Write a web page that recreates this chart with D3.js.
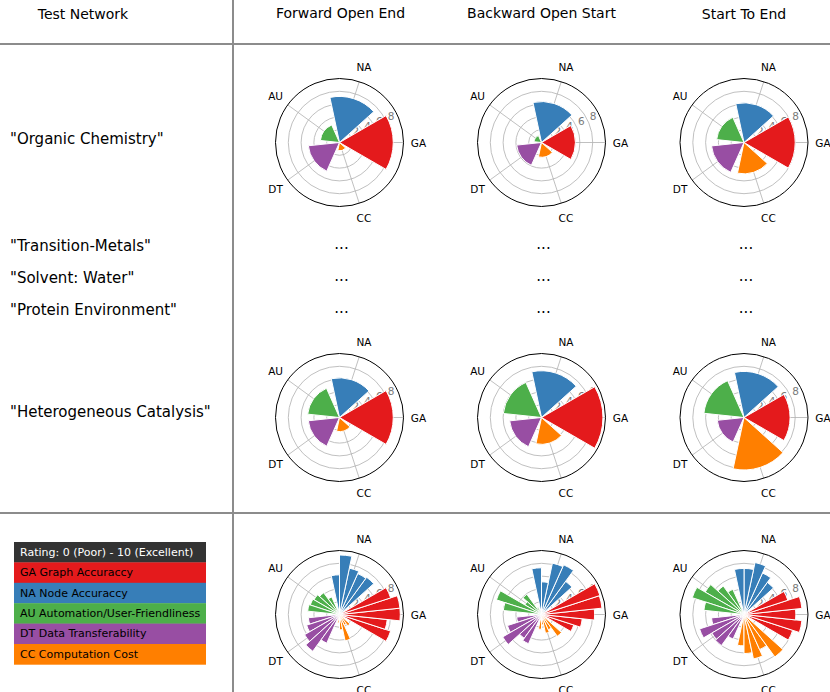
<!DOCTYPE html>
<html>
<head>
<meta charset="utf-8">
<script src="https://cdn.jsdelivr.net/npm/d3@7"></script>
<style>
  html, body { margin: 0; padding: 0; background: #fff; }
  svg { display: block; font-family: "DejaVu Sans", sans-serif; }
</style>
</head>
<body>
<svg id="chart" width="830" height="692"></svg>
<script>
const modes = ["Forward Open End", "Backward Open Start", "Start To End"];
const networks = ["\"Organic Chemistry\"", "\"Transition-Metals\"", "\"Solvent: Water\"", "\"Protein Environment\"", "\"Heterogeneous Catalysis\""];
const metrics = ["GA", "NA", "AU", "DT", "CC"];
const metricAngles = [0, 72, 144, 216, 288];
const metricColors = ["#e41a1c", "#377eb8", "#4daf4a", "#984ea3", "#ff7f00"];
const legendLabels = ["GA Graph Accuraccy", "NA Node Accuraccy", "AU Automation/User-Friendliness", "DT Data Transferability", "CC Computation Cost"];
const rTicks = [2, 4, 6, 8];

// ratings per network, in metric order GA, NA, AU, DT, CC
const forwardOpenEnd = [
  [8.4, 7.2, 3.0, 4.9, 1.3],
  [7.5, 7.0, 4.2, 5.4, 2.4],
  [9.5, 7.4, 4.6, 6.3, 4.2],
  [9.5, 9.3, 4.8, 7.1, 1.8],
  [8.4, 6.2, 5.0, 4.9, 2.2]
];
const backwardOpenStart = [
  [5.3, 6.4, 1.2, 3.9, 2.3],
  [6.4, 8.5, 3.9, 5.6, 1.6],
  [8.3, 8.2, 3.0, 7.0, 3.0],
  [9.5, 5.1, 7.4, 4.6, 2.6],
  [9.6, 7.3, 6.0, 5.0, 4.2]
];
const startToEnd = [
  [8.0, 6.2, 4.3, 5.1, 4.9],
  [9.1, 7.1, 5.5, 7.3, 6.1],
  [8.1, 8.3, 7.0, 5.8, 7.1],
  [9.1, 7.2, 8.5, 6.0, 6.0],
  [7.2, 7.2, 6.3, 4.2, 8.2]
];
const modeData = [forwardOpenEnd, backwardOpenStart, startToEnd];

const svg = d3.select("#chart");
const R = 64;
const colX = [339.5, 541.5, 744];
const rowY = [142.5, 417.5, 614.5];
const rScale = d3.scaleLinear().domain([0, 10]).range([0, R]);
const rad = d => d * Math.PI / 180;

// table lines
const lineColor = "#8c8c8c";
svg.append("line").attr("x1", 233).attr("x2", 233).attr("y1", 0).attr("y2", 692)
  .attr("stroke", lineColor).attr("stroke-width", 2);
[44, 513].forEach(y => svg.append("line").attr("x1", 0).attr("x2", 830).attr("y1", y).attr("y2", y)
  .attr("stroke", lineColor).attr("stroke-width", 2));

// headers
svg.append("text").attr("x", 83).attr("y", 14).attr("text-anchor", "middle").attr("dominant-baseline", "central")
  .attr("font-size", 14).text("Test Network");
modes.forEach((m, i) => {
  svg.append("text").attr("x", colX[i] + (i === 0 ? 1 : 0)).attr("y", i === 2 ? 14 : 13)
    .attr("text-anchor", "middle").attr("dominant-baseline", "central")
    .attr("font-size", 14).text(m);
});

// row labels
const labelY = [139, 246, 278, 310, 412];
networks.forEach((n, i) => {
  svg.append("text").attr("x", 10).attr("y", labelY[i]).attr("dominant-baseline", "central")
    .attr("font-size", 15).text(n);
});
[1, 2, 3].forEach(i => {
  colX.forEach(x => {
    svg.append("text").attr("x", x + 2).attr("y", labelY[i] + 3).attr("text-anchor", "middle")
      .attr("font-size", 15).text("...");
  });
});

function drawPolar(cx, cy, sets) {
  const g = svg.append("g").attr("transform", `translate(${cx},${cy})`);
  const px = (deg, r) => r * Math.cos(rad(deg));
  const py = (deg, r) => -r * Math.sin(rad(deg));

  // grid circles
  g.selectAll("circle.grid").data(rTicks).join("circle")
    .attr("r", d => rScale(d)).attr("fill", "none")
    .attr("stroke", "#b0b0b0").attr("stroke-width", 0.8);
  // spokes
  g.selectAll("line.spoke").data(metricAngles).join("line")
    .attr("x1", 0).attr("y1", 0)
    .attr("x2", d => px(d, R)).attr("y2", d => py(d, R))
    .attr("stroke", "#b0b0b0").attr("stroke-width", 0.8);
  // radial tick labels
  g.selectAll("text.rtick").data(rTicks).join("text")
    .attr("x", d => px(22.5, rScale(d)) + 4.4)
    .attr("y", d => py(22.5, rScale(d)) - 6.7)
    .attr("text-anchor", "middle").attr("dominant-baseline", "central")
    .attr("font-size", 10.5).attr("fill", "#7a7a7a").text(d => d);

  // bars
  const n = sets.length;
  const span = 60, w = span / n;
  const bars = [];
  sets.forEach((vals, k) => {
    vals.forEach((v, j) => {
      const a0 = metricAngles[j] - span / 2 + w * k;
      bars.push({ a0, a1: a0 + w, v, color: metricColors[j] });
    });
  });
  const arc = d3.arc().innerRadius(0)
    .outerRadius(d => rScale(d.v))
    .startAngle(d => rad(90 - d.a1))
    .endAngle(d => rad(90 - d.a0));
  g.selectAll("path.bar").data(bars).join("path")
    .attr("d", arc).attr("fill", d => d.color)
    .attr("stroke", "#fff").attr("stroke-width", 1).attr("stroke-linejoin", "miter");

  // outer spine
  g.append("circle").attr("r", R).attr("fill", "none").attr("stroke", "#000").attr("stroke-width", 1);

  // category labels
  g.selectAll("text.cat").data(metrics).join("text")
    .attr("x", (d, i) => px(metricAngles[i], 79))
    .attr("y", (d, i) => py(metricAngles[i], 79))
    .attr("text-anchor", "middle").attr("dominant-baseline", "central")
    .attr("font-size", 10.5).text(d => d);
}

modeData.forEach((data, c) => {
  drawPolar(colX[c], rowY[0], [data[0]]);
  drawPolar(colX[c], rowY[1], [data[4]]);
  drawPolar(colX[c], rowY[2], data);
});

// legend
const lg = svg.append("g").attr("transform", "translate(14,542)");
const rowH = 20.4;
const legendRows = [{ label: "Rating: 0 (Poor) - 10 (Excellent)", fill: "#333333", text: "#fff" }]
  .concat(legendLabels.map((l, i) => ({ label: l, fill: metricColors[i], text: "#000" })));
lg.selectAll("rect").data(legendRows).join("rect")
  .attr("x", 0).attr("y", (d, i) => i * rowH).attr("width", 192).attr("height", rowH + 0.3)
  .attr("fill", d => d.fill);
lg.selectAll("text").data(legendRows).join("text")
  .attr("x", 6).attr("y", (d, i) => i * rowH + rowH / 2)
  .attr("dominant-baseline", "central").attr("font-size", 11)
  .attr("fill", d => d.text).text(d => d.label);
</script>
</body>
</html>
